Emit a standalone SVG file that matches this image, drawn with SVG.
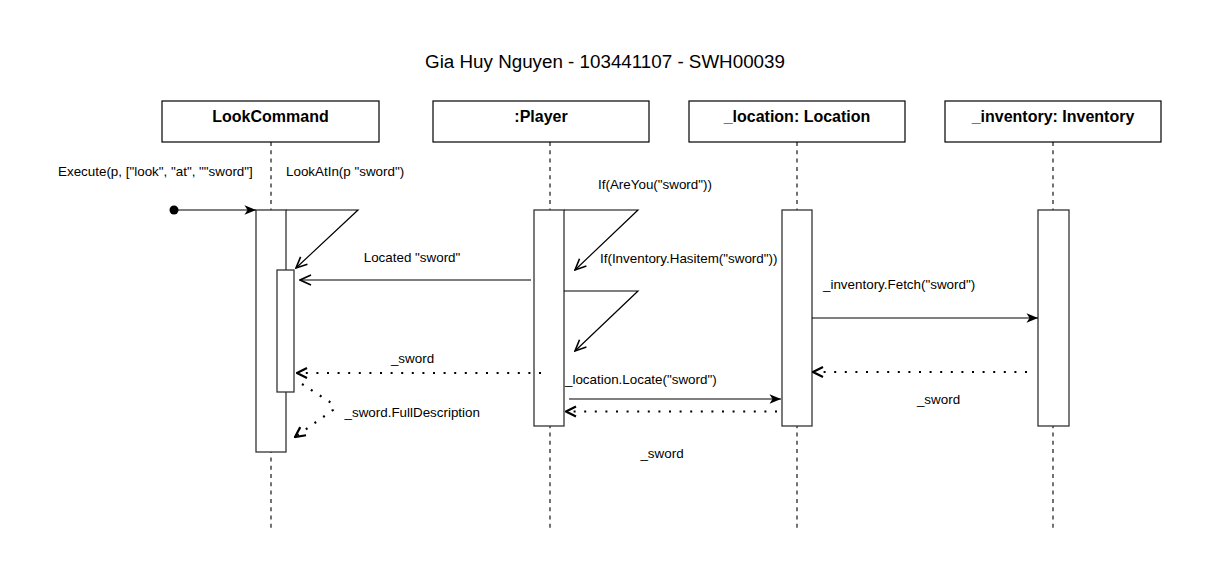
<svg xmlns="http://www.w3.org/2000/svg" width="1210" height="584" viewBox="0 0 1210 584">
<style>
text{font-family:"Liberation Sans",Arial,sans-serif;fill:#000}
.lbl{font-size:13.4px}
.hdr{font-size:16px;font-weight:bold;text-anchor:middle}
.title{font-size:18.8px;text-anchor:middle}
.box{fill:#fff;stroke:#000;stroke-width:1.2}
.act{fill:#fff;stroke:#333;stroke-width:1.3}
.life{stroke:#000;stroke-width:1.1;stroke-dasharray:4 4.3;fill:none}
.msg{stroke:#000;stroke-width:1.2;fill:none}
.ret{stroke:#000;stroke-width:2.2;stroke-dasharray:2 8.6;fill:none}
</style>
<defs>
<marker id="classic" markerUnits="userSpaceOnUse" markerWidth="14" markerHeight="12" viewBox="-12 -6 14 12" refX="0" refY="0" orient="auto">
<path d="M-11.5,-4.8 L0,0 L-11.5,4.8 L-8.5,0 Z" fill="#000"/>
</marker>
<marker id="open" markerUnits="userSpaceOnUse" markerWidth="14" markerHeight="14" viewBox="-13 -7 14 14" refX="0" refY="0" orient="auto">
<path d="M-11,-5 L0,0 L-11,5" fill="none" stroke="#000" stroke-width="1.6"/>
</marker>
<marker id="openThick" markerUnits="userSpaceOnUse" markerWidth="14" markerHeight="14" viewBox="-13 -7 14 14" refX="0" refY="0" orient="auto">
<path d="M-10,-5 L0,0 L-10,5" fill="none" stroke="#000" stroke-width="2.2"/>
</marker>
</defs>
<rect width="1210" height="584" fill="#fff"/>
<text class="title" x="605" y="68">Gia Huy Nguyen - 103441107 - SWH00039</text>

<g id="lifelines">
<line class="life" x1="271" y1="142" x2="271" y2="530"/>
<line class="life" x1="550" y1="142" x2="550" y2="530"/>
<line class="life" x1="797" y1="142" x2="797" y2="530"/>
<line class="life" x1="1053" y1="142" x2="1053" y2="530"/>
</g>

<g id="node-lookcommand">
<rect class="box" x="162" y="101" width="217" height="41"/>
<text class="hdr" x="270.5" y="122">LookCommand</text>
<rect class="act" x="256" y="210" width="30" height="242"/>
<rect class="act" x="277" y="270" width="17" height="122"/>
</g>
<g id="node-player">
<rect class="box" x="433" y="101" width="216" height="41"/>
<text class="hdr" x="541" y="122">:Player</text>
<rect class="act" x="534" y="210" width="30" height="216"/>
</g>
<g id="node-location">
<rect class="box" x="689" y="101" width="216" height="41"/>
<text class="hdr" x="797" y="122">_location: Location</text>
<rect class="act" x="782" y="210" width="30" height="216"/>
</g>
<g id="node-inventory">
<rect class="box" x="945" y="101" width="216" height="41"/>
<text class="hdr" x="1053" y="122">_inventory: Inventory</text>
<rect class="act" x="1038" y="210" width="31" height="216"/>
</g>

<g id="connectors">
<circle cx="174" cy="210" r="4.5" fill="#000"/>
<line class="msg" x1="174" y1="210" x2="256" y2="210" marker-end="url(#classic)"/>
<polyline class="msg" points="286,210 358,210 296,268" marker-end="url(#open)"/>
<polyline class="msg" points="564,210 638,210 575,270" marker-end="url(#open)"/>
<polyline class="msg" points="564,291 638,291 575,351" marker-end="url(#open)"/>
<line class="msg" x1="531" y1="280" x2="300" y2="280" marker-end="url(#open)"/>
<line class="ret" x1="541" y1="373" x2="297" y2="373" marker-end="url(#openThick)"/>
<polyline class="ret" points="302,384 333,404 333,410 295,437" marker-end="url(#openThick)"/>
<line class="msg" x1="569" y1="399" x2="781" y2="399" marker-end="url(#classic)"/>
<line class="ret" x1="777" y1="411.5" x2="566" y2="411.5" marker-end="url(#openThick)"/>
<line class="msg" x1="812" y1="318" x2="1038" y2="318" marker-end="url(#classic)"/>
<line class="ret" x1="1027" y1="372" x2="813" y2="372" marker-end="url(#openThick)"/>
</g>

<g id="labels">
<text class="lbl" x="58" y="175.5">Execute(p, ["look", "at", ""sword"]</text>
<text class="lbl" x="286" y="175.5">LookAtIn(p "sword")</text>
<text class="lbl" x="598" y="189">If(AreYou("sword"))</text>
<text class="lbl" x="600" y="262.5">If(Inventory.Hasitem("sword"))</text>
<text class="lbl" x="412" y="262" text-anchor="middle">Located "sword"</text>
<text class="lbl" x="823" y="289">_inventory.Fetch("sword")</text>
<text class="lbl" x="412.5" y="363" text-anchor="middle">_sword</text>
<text class="lbl" x="565" y="384">_location.Locate("sword")</text>
<text class="lbl" x="344.5" y="416.5">_sword.FullDescription</text>
<text class="lbl" x="938.5" y="403.5" text-anchor="middle">_sword</text>
<text class="lbl" x="662" y="458" text-anchor="middle">_sword</text>
</g>
</svg>
